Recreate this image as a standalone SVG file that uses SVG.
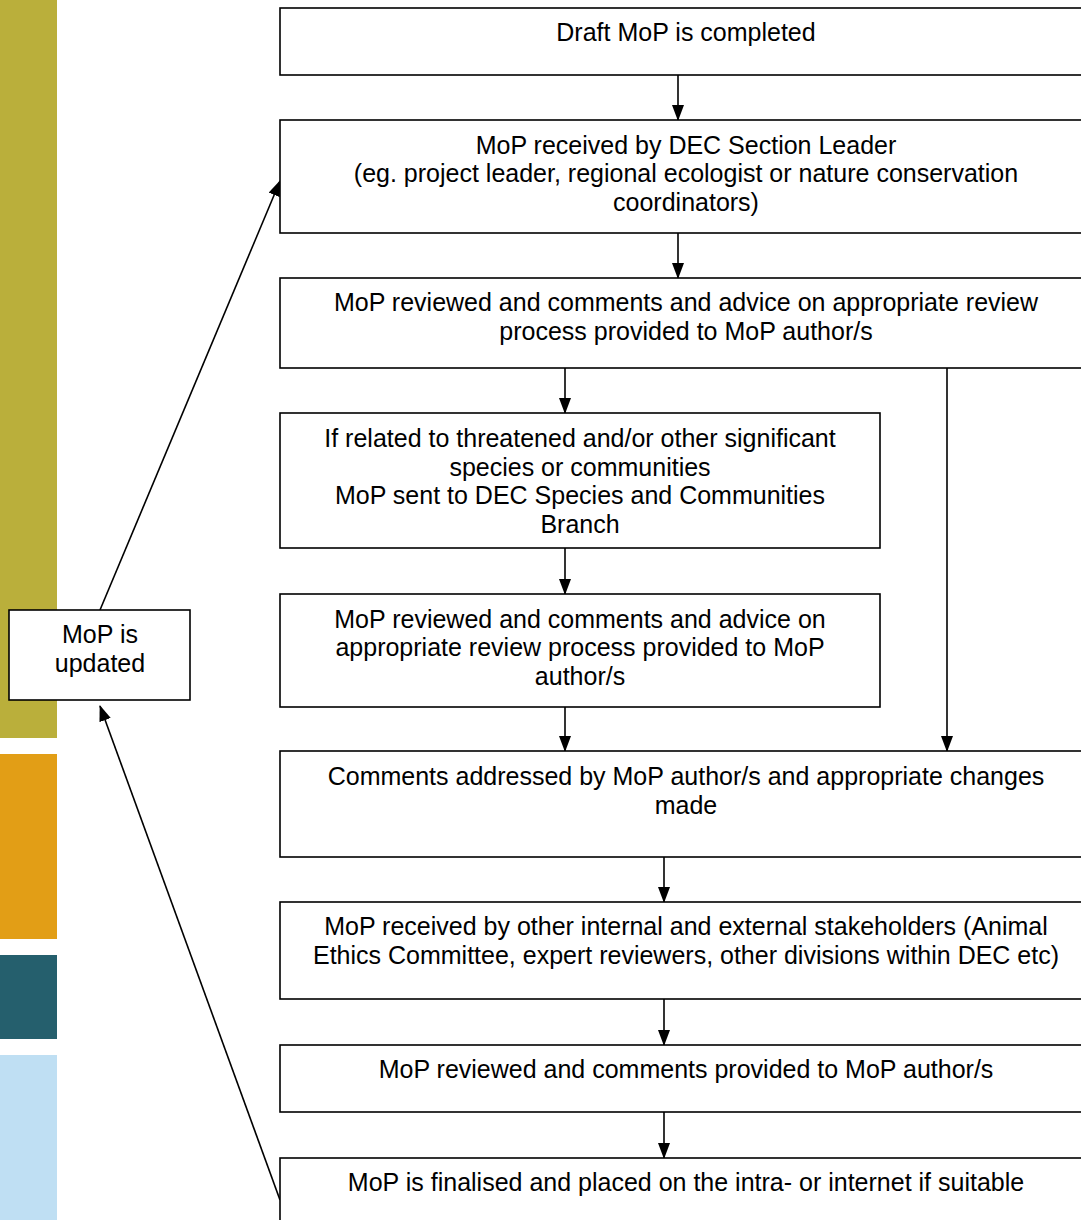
<svg xmlns="http://www.w3.org/2000/svg" width="1081" height="1220" viewBox="0 0 1081 1220">
<defs>
<marker id="ah" markerWidth="16" markerHeight="12" refX="15" refY="6" orient="auto" markerUnits="userSpaceOnUse">
<path d="M0,0 L16,6 L0,12 Z" fill="#000"/>
</marker>
<style>
.box{fill:#fff;stroke:#000;stroke-width:1.6}
.t{font-family:"Liberation Sans",Arial,sans-serif;font-size:25px;fill:#000;text-anchor:middle}
.c{stroke:#000;stroke-width:1.6;fill:none;marker-end:url(#ah)}
</style>
</defs>
<rect width="1081" height="1220" fill="#fff"/>
<g id="sidebar">
<rect x="0" y="0" width="57" height="738" fill="#BAAF3B"/>
<rect x="0" y="754" width="57" height="185" fill="#E29E16"/>
<rect x="0" y="955" width="57" height="84" fill="#255F6D"/>
<rect x="0" y="1055" width="57" height="165" fill="#BFDFF3"/>
</g>
<g id="connectors">
<line class="c" x1="678" y1="75" x2="678" y2="120"/>
<line class="c" x1="678" y1="233" x2="678" y2="278"/>
<line class="c" x1="565" y1="368" x2="565" y2="413"/>
<line class="c" x1="947" y1="368" x2="947" y2="751"/>
<line class="c" x1="565" y1="548" x2="565" y2="594"/>
<line class="c" x1="565" y1="707" x2="565" y2="751"/>
<line class="c" x1="664" y1="857" x2="664" y2="902"/>
<line class="c" x1="664" y1="999" x2="664" y2="1045"/>
<line class="c" x1="664" y1="1112" x2="664" y2="1158"/>
<line class="c" x1="100" y1="610" x2="280" y2="181"/>
<line class="c" x1="280" y1="1200" x2="100" y2="706"/>
</g>
<g id="n1"><rect class="box" x="280" y="8" width="820" height="67"/><text class="t" x="686" y="41">Draft MoP is completed</text></g>
<g id="n2"><rect class="box" x="280" y="120" width="820" height="113"/><text class="t" x="686" y="154">MoP received by DEC Section Leader</text><text class="t" x="686" y="182">(eg. project leader, regional ecologist or nature conservation</text><text class="t" x="686" y="211">coordinators)</text></g>
<g id="n3"><rect class="box" x="280" y="278" width="820" height="90"/><text class="t" x="686" y="311">MoP reviewed and comments and advice on appropriate review</text><text class="t" x="686" y="340">process provided to MoP author/s</text></g>
<g id="n4"><rect class="box" x="280" y="413" width="600" height="135"/><text class="t" x="580" y="447">If related to threatened and/or other significant</text><text class="t" x="580" y="476">species or communities</text><text class="t" x="580" y="504">MoP sent to DEC Species and Communities</text><text class="t" x="580" y="533">Branch</text></g>
<g id="n5"><rect class="box" x="280" y="594" width="600" height="113"/><text class="t" x="580" y="628">MoP reviewed and comments and advice on</text><text class="t" x="580" y="656">appropriate review process provided to MoP</text><text class="t" x="580" y="685">author/s</text></g>
<g id="n6"><rect class="box" x="280" y="751" width="820" height="106"/><text class="t" x="686" y="785">Comments addressed by MoP author/s and appropriate changes</text><text class="t" x="686" y="814">made</text></g>
<g id="n7"><rect class="box" x="280" y="902" width="820" height="97"/><text class="t" x="686" y="935">MoP received by other internal and external stakeholders (Animal</text><text class="t" x="686" y="964">Ethics Committee, expert reviewers, other divisions within DEC etc)</text></g>
<g id="n8"><rect class="box" x="280" y="1045" width="820" height="67"/><text class="t" x="686" y="1078">MoP reviewed and comments provided to MoP author/s</text></g>
<g id="n9"><rect class="box" x="280" y="1158" width="820" height="80"/><text class="t" x="686" y="1191">MoP is finalised and placed on the intra- or internet if suitable</text></g>
<g id="side"><rect class="box" x="9" y="610" width="181" height="90"/><text class="t" x="100" y="643">MoP is</text><text class="t" x="100" y="672">updated</text></g>
</svg>
